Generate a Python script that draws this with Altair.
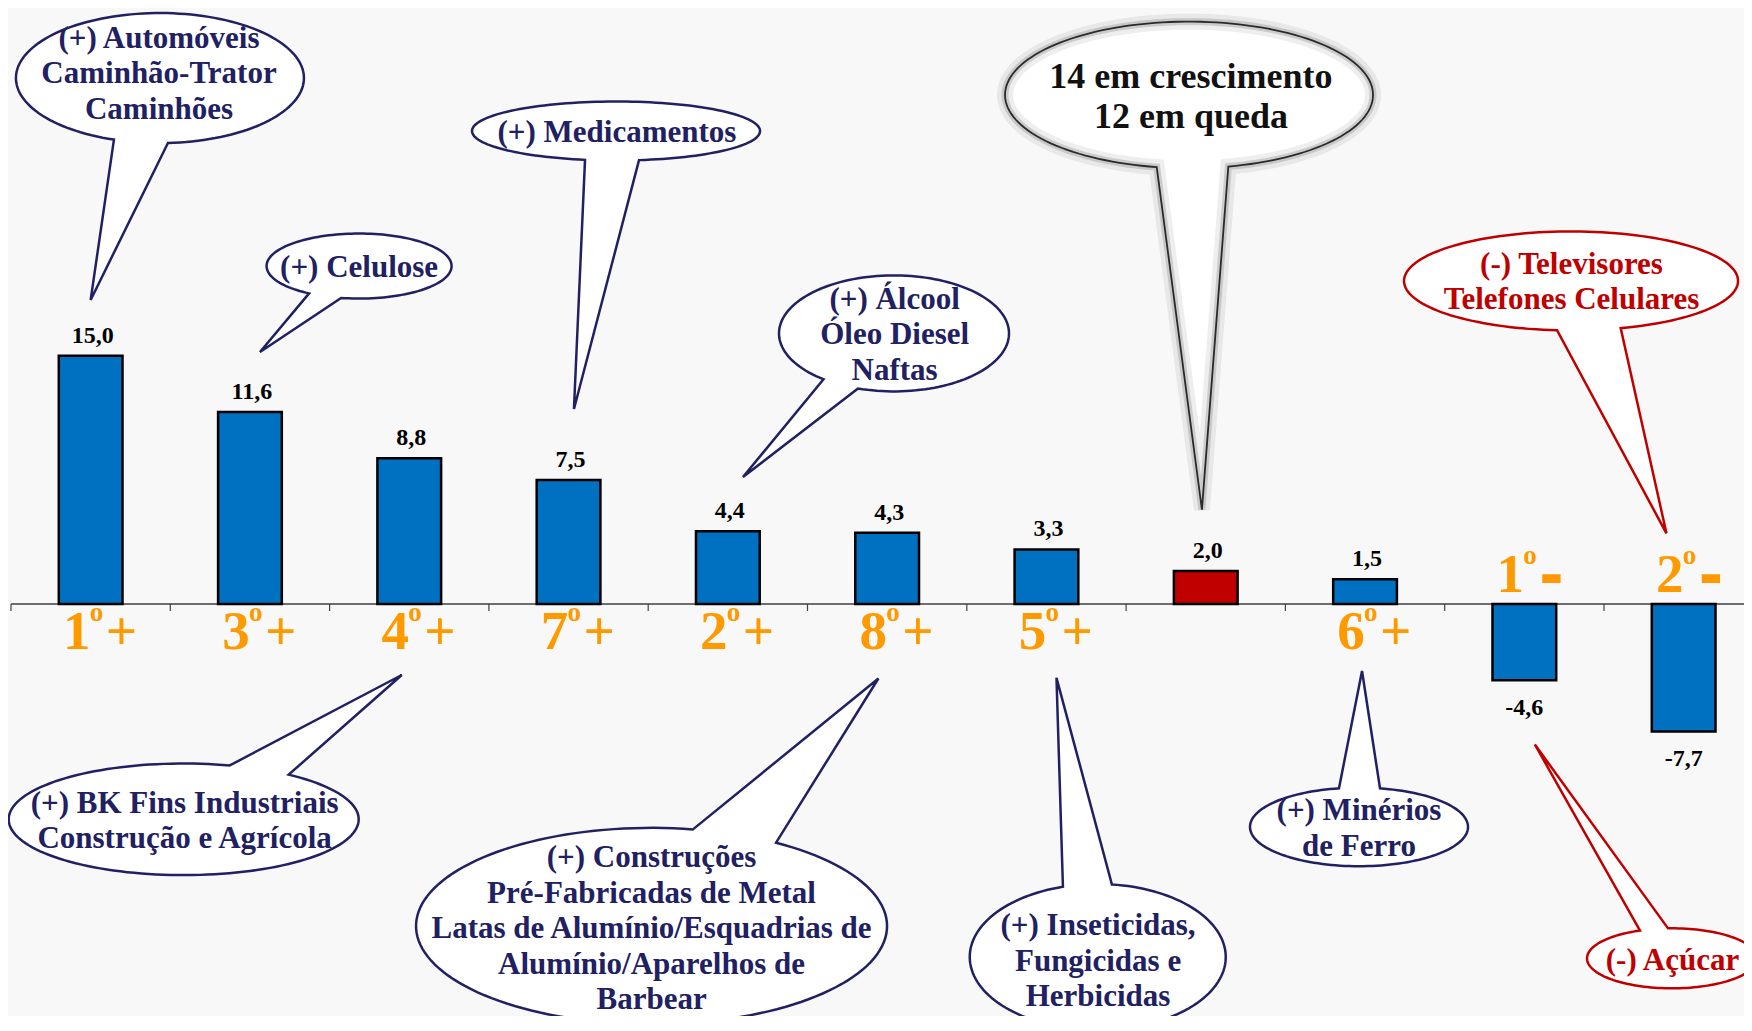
import math
import altair as alt
import pandas as pd

# ---------------- data ----------------
ranks = ["1", "3", "4", "7", "2", "8", "5", "", "6", "1", "2"]
signs = ["+", "+", "+", "+", "+", "+", "+", "", "+", "-", "-"]
values = [15.0, 11.6, 8.8, 7.5, 4.4, 4.3, 3.3, 2.0, 1.5, -4.6, -7.7]
value_labels = ["15,0", "11,6", "8,8", "7,5", "4,4", "4,3", "3,3", "2,0", "1,5", "-4,6", "-7,7"]
kinds = ["setor"] * 7 + ["total"] + ["setor"] * 3
slot_ticks = list(range(11))

callout_lines = [
    ["(+) Automóveis", "Caminhão-Trator", "Caminhões"],
    ["(+) Celulose"],
    ["(+) Medicamentos"],
    ["(+) Álcool", "Óleo Diesel", "Naftas"],
    ["14 em crescimento", "12 em queda"],
    ["(-) Televisores", "Telefones Celulares"],
    ["(+) BK Fins Industriais", "Construção e Agrícola"],
    ["(+) Construções", "Pré-Fabricadas de Metal", "Latas de Alumínio/Esquadrias de",
     "Alumínio/Aparelhos de", "Barbear"],
    ["(+) Inseticidas,", "Fungicidas e", "Herbicidas"],
    ["(+) Minérios", "de Ferro"],
    ["(-) Açúcar"],
]
callout_tone = ["alta", "alta", "alta", "alta", "resumo", "queda",
                "alta", "alta", "alta", "alta", "queda"]

# annotation anchors, in data units (x: category slot, y: % value)
callout_cx = [0.935, 2.185, 3.798, 5.543, 7.395, 9.793, 1.084, 4.021, 6.822, 8.462, 10.427]
callout_cy = [31.78, 20.42, 28.58, 16.35, 30.76, 19.52, -13.01, -19.46, -21.33, -13.47, -21.41]
callout_tx = [0.929, 2.185, 3.804, 5.547, 7.407, 9.796, 1.090, 4.021, 6.824, 8.462, 10.430]
callout_ty = [32.02, 20.30, 28.46, 16.25, 30.65, 19.43, -13.15, -19.66, -21.61, -13.60, -21.57]
callout_tipx = [0.500, 1.563, 3.534, 4.595, 7.476, 10.392, 2.453, 5.445, 6.563, 8.481, 9.566]
callout_tipy = [18.37, 15.23, 11.78, 7.67, 5.70, 4.27, -4.29, -4.50, -4.46, -4.05, -8.49]

# ---------------- style ----------------
callout_rx = [144, 92.5, 144, 115, 184, 167, 175, 235.5, 128, 109, 85]
callout_ry = [65, 32.5, 29.5, 58, 73.3, 49.5, 55.8, 98.2, 73, 39.3, 30]
callout_base = [(-46, 8), (-50, -18), (-31, 23), (-70.5, -36), (-32.3, 39.3), (-14, 49.7),
                (46, 105), (41.4, 124.5), (-34.8, 14.2), (-20, 21), (-32, -4)]
callout_side = ["bottom"] * 6 + ["top"] * 5

FONT = "Liberation Serif"
NAVY = "#202062"
RED = "#C00000"
ORANGE = "#FF9900"
AXIS_GRAY = "#404040"
TONES = ["alta", "queda", "resumo"]
TONE_COLORS = [NAVY, RED, "#111111"]

PLOT_W, PLOT_H = 1733, 1008
BAND_PX = 159.3
YPX = 16.55
X_MAX = PLOT_W / BAND_PX
Y_MAX = 596 / YPX
Y_MIN = Y_MAX - PLOT_H / YPX

xs = alt.Scale(domain=[0, X_MAX], nice=False, zero=False)
ys = alt.Scale(domain=[Y_MIN, Y_MAX], nice=False, zero=False)


def bubble_path(rx, ry, base, side, tip, n=140):
    s = 1 if side == "bottom" else -1

    def ang(dx):
        c = max(-1.0, min(1.0, dx / rx))
        a = math.acos(c)
        return a if s > 0 else -a

    a1, a2 = ang(base[0]), ang(base[1])
    d = (a2 - a1) % (2 * math.pi)
    if d > math.pi:
        a1, a2 = a2, a1
        d = 2 * math.pi - d
    pts = [(rx * math.cos(a1), ry * math.sin(a1)), tip,
           (rx * math.cos(a2), ry * math.sin(a2))]
    span = 2 * math.pi - d
    for k in range(1, n):
        a = a2 + span * k / n
        pts.append((rx * math.cos(a), ry * math.sin(a)))
    return "M" + " L".join(f"{x:.2f},{y:.2f}" for x, y in pts) + " Z"


bub_rows, txt_rows = [], []
for i, lines in enumerate(callout_lines):
    tip = ((callout_tipx[i] - callout_cx[i]) * BAND_PX,
           -(callout_tipy[i] - callout_cy[i]) * YPX)
    bub_rows.append({
        "cx": callout_cx[i], "cy": callout_cy[i], "tone": callout_tone[i],
        "path": bubble_path(callout_rx[i], callout_ry[i], callout_base[i],
                            callout_side[i], tip)})
    big = callout_tone[i] == "resumo"
    spacing = 40 if big else 35.5
    n = len(lines)
    for k, line in enumerate(lines):
        txt_rows.append({
            "x": callout_tx[i],
            "y": callout_ty[i] - (k - (n - 1) / 2) * spacing / YPX,
            "line": line, "tone": callout_tone[i], "fs": 36 if big else 31})

bub_df = pd.DataFrame(bub_rows)
txt_df = pd.DataFrame(txt_rows)

bars_df = pd.DataFrame({"pos": list(range(len(values))), "value": values,
                        "label": value_labels, "rank": ranks, "sign": signs,
                        "kind": kinds})

# ---------------- axis (zero line with slot ticks) ----------------
axis_line = alt.Chart(pd.DataFrame({"a": [0.0], "b": [X_MAX], "zero": [0.0]})).mark_rule(
    color=AXIS_GRAY, strokeWidth=1.5).encode(
    x=alt.X("a:Q", scale=xs, axis=None), x2="b:Q",
    y=alt.Y("zero:Q", scale=ys, axis=None))
axis_ticks = alt.Chart(pd.DataFrame({"t": slot_ticks})).transform_calculate(
    y0="0", y1=f"{-7 / YPX}").mark_rule(color=AXIS_GRAY, strokeWidth=1.2).encode(
    x=alt.X("t:Q", scale=xs, axis=None),
    y=alt.Y("y0:Q", scale=ys, axis=None), y2="y1:Q")

base = alt.Chart(bars_df).transform_calculate(
    x0="datum.pos + 0.3", x1="datum.pos + 0.7", xc="datum.pos + 0.5", zero="0")

bars = base.mark_bar(stroke="black", strokeWidth=2.5).encode(
    x=alt.X("x0:Q", scale=xs, axis=None),
    x2="x1:Q",
    y=alt.Y("value:Q", scale=ys, axis=None),
    y2="zero:Q",
    color=alt.Color("kind:N", scale=alt.Scale(domain=["setor", "total"],
                                              range=["#0070C0", RED]), legend=None),
)

vtext = dict(font=FONT, fontSize=24, fontWeight="bold", color="black",
             baseline="alphabetic", align="center")
vpos = base.transform_filter("datum.value >= 0").mark_text(dy=-13, dx=2, **vtext).encode(
    x=alt.X("xc:Q", scale=xs, axis=None), y=alt.Y("value:Q", scale=ys, axis=None),
    text="label:N")
vneg = base.transform_filter("datum.value < 0").mark_text(dy=35, **vtext).encode(
    x=alt.X("xc:Q", scale=xs, axis=None), y=alt.Y("value:Q", scale=ys, axis=None),
    text="label:N")

rank_base = base.transform_filter("datum.rank != ''").transform_calculate(
    ry=f"datum.value >= 0 ? {-45 / YPX} : {12 / YPX}")
rtext = dict(font=FONT, fontWeight="bold", color=ORANGE, baseline="alphabetic")
enc = dict(x=alt.X("xc:Q", scale=xs, axis=None), y=alt.Y("ry:Q", scale=ys, axis=None))
digit = rank_base.mark_text(fontSize=55, align="center", dx=-14, **rtext).encode(
    text="rank:N", **enc)
sup = rank_base.mark_text(fontSize=27, align="left", dx=-1, dy=-28, **rtext).encode(
    text=alt.value("o"), **enc)
plus = rank_base.transform_filter("datum.sign == '+'").mark_text(
    fontSize=55, align="left", dx=15, **rtext).encode(text="sign:N", **enc)
minus = rank_base.transform_filter("datum.sign == '-'").mark_text(
    fontSize=55, align="left", dx=18, stroke=ORANGE, strokeWidth=4, **rtext).encode(
    text="sign:N", **enc)

benc = dict(x=alt.X("cx:Q", scale=xs, axis=None), y=alt.Y("cy:Q", scale=ys, axis=None),
            shape=alt.Shape("path:N", scale=None))
bub = alt.Chart(bub_df)
bubbles = bub.transform_filter("datum.tone != 'resumo'").mark_point(
    size=4, opacity=1, fill="white", fillOpacity=1, strokeWidth=2.5).encode(
    stroke=alt.Stroke("tone:N", scale=alt.Scale(domain=TONES, range=TONE_COLORS), legend=None),
    **benc)
big = bub.transform_filter("datum.tone == 'resumo'")
big_a = big.mark_point(size=4, opacity=1, fill="white", fillOpacity=1, stroke="#7a7a7a",
                       strokeWidth=16, strokeOpacity=0.13).encode(**benc)
big_b = big.mark_point(size=4, opacity=1, stroke="#666666",
                       strokeWidth=7, strokeOpacity=0.25).encode(**benc)
big_c = big.mark_point(size=4, opacity=1, stroke="#2a2a2a",
                       strokeWidth=1.8).encode(**benc)

texts = alt.Chart(txt_df).mark_text(font=FONT, fontWeight="bold", baseline="middle",
                                    align="center").encode(
    x=alt.X("x:Q", scale=xs, axis=None), y=alt.Y("y:Q", scale=ys, axis=None),
    text="line:N",
    color=alt.Color("tone:N", scale=alt.Scale(domain=TONES, range=TONE_COLORS), legend=None),
    size=alt.Size("fs:Q", scale=None))

chart = alt.layer(
    axis_line, axis_ticks, bars, vpos, vneg, digit, sup, plus, minus,
    bubbles, big_a, big_b, big_c, texts
).resolve_scale(color="independent").properties(
    width=PLOT_W, height=PLOT_H,
    padding={"left": 3, "top": 0, "right": 0, "bottom": 0},
    autosize=alt.AutoSizeParams(type="none"),
    background="#f8f8f8",
).configure_view(stroke=None)

chart.save("out.html", embed_options={"renderer": "svg", "actions": False})
